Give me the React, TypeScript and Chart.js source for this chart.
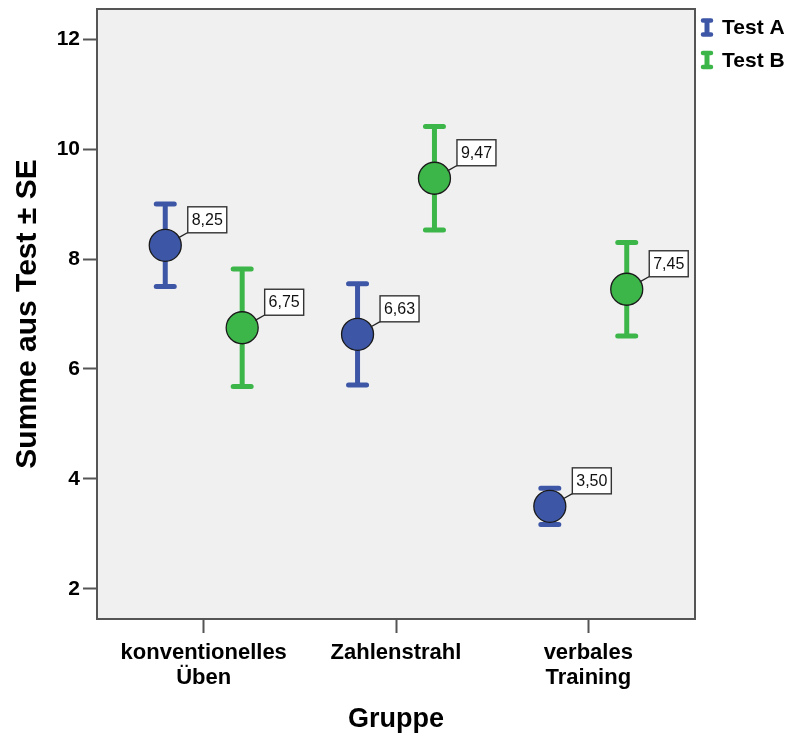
import { useEffect, useRef } from 'react';
import { Chart, registerables } from 'chart.js';

Chart.register(...registerables);

// Groups on the x axis (multi-line labels)
const groupLabels: string[][] = [['konventionelles', 'Üben'], ['Zahlenstrahl'], ['verbales', 'Training']];
const seriesNames = ['Test A', 'Test B'];

// Means and standard errors per group
const meanA = [8.25, 6.63, 3.5];
const seA = [0.75, 0.92, 0.33];
const meanB = [6.75, 9.47, 7.45];
const seB = [1.07, 0.94, 0.85];

const yTicks = [2, 4, 6, 8, 10, 12];

const colorA = '#3D56A6';
const colorB = '#3CB649';
const FONT = 'Arial, "Liberation Sans", sans-serif';
const GROUP_OFFSET = 0.2;

const fmt = (v: number) => v.toFixed(2).replace('.', ',');

const plotBackground = {
  id: 'plotBackground',
  beforeDraw(chart: any) {
    const { ctx, chartArea: a } = chart;
    ctx.save();
    ctx.fillStyle = '#F0F0F0';
    ctx.fillRect(a.left, a.top, a.right - a.left, a.bottom - a.top);
    ctx.restore();
  },
};

const errorBars = {
  id: 'errorBars',
  beforeDatasetsDraw(chart: any) {
    const { ctx, scales } = chart;
    const xs = scales.x;
    const ys = scales.y;
    chart.data.datasets.forEach((ds: any) => {
      ds.data.forEach((d: any) => {
        const px = xs.getPixelForValue(d.x);
        const top = ys.getPixelForValue(d.y + d.se);
        const bot = ys.getPixelForValue(d.y - d.se);
        ctx.save();
        ctx.strokeStyle = ds.backgroundColor;
        ctx.lineWidth = 5;
        ctx.lineCap = 'butt';
        ctx.beginPath();
        ctx.moveTo(px, top);
        ctx.lineTo(px, bot);
        ctx.stroke();
        ctx.lineCap = 'round';
        ctx.beginPath();
        ctx.moveTo(px - 9, top);
        ctx.lineTo(px + 9, top);
        ctx.moveTo(px - 9, bot);
        ctx.lineTo(px + 9, bot);
        ctx.stroke();
        ctx.restore();
      });
    });
  },
};

const valueLabels = {
  id: 'valueLabels',
  afterDatasetsDraw(chart: any) {
    const { ctx, scales } = chart;
    const xs = scales.x;
    const ys = scales.y;
    ctx.save();
    ctx.font = `16px ${FONT}`;
    chart.data.datasets.forEach((ds: any) => {
      ds.data.forEach((d: any) => {
        const cx = xs.getPixelForValue(d.x);
        const cy = ys.getPixelForValue(d.y);
        const text = fmt(d.y);
        const w = Math.round(ctx.measureText(text).width) + 8;
        const h = 26;
        const bx = cx + 22;
        const by = cy - 39;
        // leader line from the marker edge to the box corner
        const ex = cx + 23;
        const ey = cy - 13;
        const ang = Math.atan2(ey - cy, ex - cx);
        ctx.strokeStyle = '#222';
        ctx.lineWidth = 1.3;
        ctx.beginPath();
        ctx.moveTo(cx + 15 * Math.cos(ang), cy + 15 * Math.sin(ang));
        ctx.lineTo(ex, ey);
        ctx.stroke();
        ctx.fillStyle = '#FFFFFF';
        ctx.fillRect(bx, by, w, h);
        ctx.strokeStyle = '#333';
        ctx.lineWidth = 1.4;
        ctx.strokeRect(bx + 0.5, by + 0.5, w, h);
        ctx.fillStyle = '#111';
        ctx.textAlign = 'center';
        ctx.textBaseline = 'middle';
        ctx.fillText(text, bx + w / 2 + 0.5, by + h / 2 + 1);
      });
    });
    ctx.restore();
  },
};

const plotFrame = {
  id: 'plotFrame',
  afterDraw(chart: any) {
    const { ctx, chartArea: a } = chart;
    ctx.save();
    ctx.strokeStyle = '#555';
    ctx.lineWidth = 2;
    ctx.strokeRect(a.left, a.top, a.right - a.left, a.bottom - a.top);
    ctx.restore();
  },
};

const sideLegend = {
  id: 'sideLegend',
  afterDraw(chart: any) {
    const { ctx } = chart;
    const a = chart.chartArea;
    ctx.save();
    chart.data.datasets.forEach((ds: any, i: number) => {
      const ix = a.right + 12;
      const iy = 27.5 + i * 32.5;
      ctx.strokeStyle = ds.backgroundColor;
      ctx.lineWidth = 5;
      ctx.lineCap = 'butt';
      ctx.beginPath();
      ctx.moveTo(ix, iy - 7);
      ctx.lineTo(ix, iy + 7);
      ctx.stroke();
      ctx.lineWidth = 4.5;
      ctx.lineCap = 'round';
      ctx.beginPath();
      ctx.moveTo(ix - 4, iy - 7);
      ctx.lineTo(ix + 4, iy - 7);
      ctx.moveTo(ix - 4, iy + 7);
      ctx.lineTo(ix + 4, iy + 7);
      ctx.stroke();
      ctx.fillStyle = '#000';
      ctx.font = `bold 21px ${FONT}`;
      ctx.textAlign = 'left';
      ctx.textBaseline = 'middle';
      ctx.fillText(ds.label, ix + 15, iy + 1);
    });
    ctx.restore();
  },
};

export default function App() {
  const canvasRef = useRef<HTMLCanvasElement | null>(null);

  useEffect(() => {
    const canvas = canvasRef.current;
    if (!canvas) return;
    const makeData = (means: number[], ses: number[], dx: number) =>
      means.map((m, i) => ({ x: i + dx, y: m, se: ses[i] }));

    const chart = new Chart(canvas, {
      type: 'scatter',
      data: {
        datasets: [
          {
            label: seriesNames[0],
            data: makeData(meanA, seA, -GROUP_OFFSET),
            backgroundColor: colorA,
            borderColor: '#1A1A1A',
            borderWidth: 1.3,
            pointRadius: 16,
            pointHoverRadius: 16,
          },
          {
            label: seriesNames[1],
            data: makeData(meanB, seB, GROUP_OFFSET),
            backgroundColor: colorB,
            borderColor: '#1A1A1A',
            borderWidth: 1.3,
            pointRadius: 16,
            pointHoverRadius: 16,
          },
        ] as any,
      },
      options: {
        responsive: false,
        animation: false,
        layout: { autoPadding: false, padding: { top: 9, right: 107, left: 0, bottom: 0 } },
        plugins: {
          legend: { display: false },
          tooltip: { enabled: false },
        },
        scales: {
          x: {
            type: 'linear',
            min: -0.555,
            max: 2.555,
            afterBuildTicks: (s: any) => {
              s.ticks = groupLabels.map((_, i) => ({ value: i }));
            },
            afterFit: (s: any) => {
              s.height = 121;
              s.paddingLeft = 0;
              s.paddingRight = 0;
            },
            ticks: {
              callback: (v: any) => groupLabels[Math.round(Number(v))] ?? '',
              font: { family: FONT, size: 22, weight: 'bold', lineHeight: 1.15 },
              color: '#000',
              padding: 7,
              maxRotation: 0,
              autoSkip: false,
            },
            grid: {
              drawOnChartArea: false,
              drawTicks: true,
              tickLength: 14,
              tickColor: '#555',
              tickWidth: 2,
            },
            border: { display: false },
            title: {
              display: true,
              text: 'Gruppe',
              font: { family: FONT, size: 27, weight: 'bold' },
              color: '#000',
              padding: { top: 0, bottom: 4 },
            },
          },
          y: {
            type: 'linear',
            min: 1.45,
            max: 12.55,
            afterBuildTicks: (s: any) => {
              s.ticks = yTicks.map((v) => ({ value: v }));
            },
            afterFit: (s: any) => {
              s.width = 97;
              s.paddingTop = 0;
              s.paddingBottom = 0;
            },
            ticks: {
              font: { family: FONT, size: 21, weight: 'bold' },
              color: '#000',
              padding: 3,
            },
            grid: {
              drawOnChartArea: false,
              drawTicks: true,
              tickLength: 14,
              tickColor: '#555',
              tickWidth: 2,
            },
            border: { display: false },
            title: {
              display: true,
              text: 'Summe aus Test ± SE',
              font: { family: FONT, size: 30, weight: 'bold' },
              color: '#000',
              padding: { top: 10, bottom: 0 },
            },
          },
        },
      } as any,
      plugins: [plotBackground, errorBars, valueLabels, plotFrame, sideLegend],
    });

    return () => chart.destroy();
  }, []);

  return (
    <div style={{ position: 'fixed', left: 0, top: 0, width: 802, height: 740, background: '#fff' }}>
      <canvas ref={canvasRef} width={802} height={740} />
    </div>
  );
}
